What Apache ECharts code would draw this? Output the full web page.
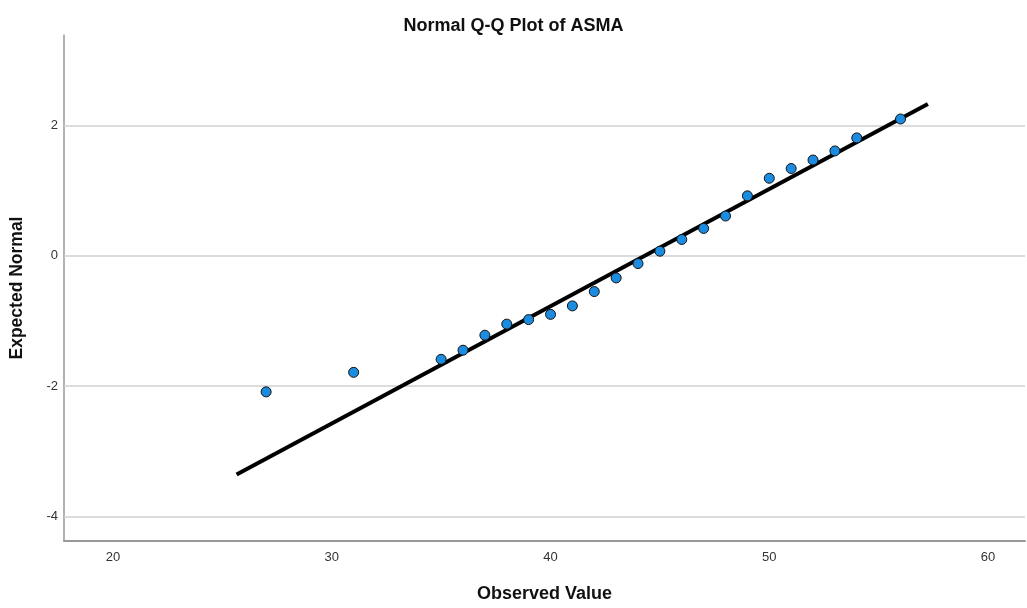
<!DOCTYPE html>
<html>
<head>
<meta charset="utf-8">
<script src="https://cdn.jsdelivr.net/npm/echarts@6/dist/echarts.min.js"></script>
<style>
  html, body { margin: 0; padding: 0; background: #fff; }
  #chart { width: 1027px; height: 608px; }
</style>
</head>
<body>
<div id="chart"></div>
<script>
// observed values and their expected normal quantiles
const observed = [27, 31, 35, 36, 37, 38, 39, 40, 41, 42, 43, 44, 45, 46, 47, 48, 49, 50, 51, 52, 53, 54, 56];
const expected = [-2.09, -1.79, -1.59, -1.45, -1.22, -1.05, -0.98, -0.90, -0.77, -0.55, -0.34, -0.12, 0.07,
  0.25, 0.42, 0.61, 0.92, 1.19, 1.34, 1.47, 1.61, 1.81, 2.10];

// reference line end points
const lineX = [25.65, 57.25];
const lineY = [-3.36, 2.33];

const xTicks = [20, 30, 40, 50, 60];
const yTicks = [-4, -2, 0, 2];

const font = '"Liberation Sans", Arial, sans-serif';
const chart = echarts.init(document.getElementById('chart'));

chart.setOption({
  animation: false,
  title: {
    text: 'Normal Q-Q Plot of ASMA',
    left: 'center',
    top: 12,
    textStyle: { fontFamily: font, fontSize: 18, fontWeight: 'bold', color: '#111' }
  },
  grid: { left: 63, right: 2, top: 35, bottom: 67 },
  xAxis: {
    type: 'value',
    min: 17.76,
    max: 61.69,
    name: 'Observed Value',
    nameLocation: 'middle',
    nameGap: 44,
    nameTextStyle: { fontFamily: font, fontSize: 18, fontWeight: 'bold', color: '#111' },
    axisLine: { show: true, onZero: false, lineStyle: { color: '#999', width: 2 } },
    axisTick: { show: false },
    splitLine: { show: false },
    axisLabel: {
      fontFamily: font, fontSize: 13, color: '#333', margin: 10,
      customValues: xTicks
    }
  },
  yAxis: {
    type: 'value',
    min: -4.38,
    max: 3.39,
    name: 'Expected Normal',
    nameLocation: 'middle',
    nameGap: 38,
    nameTextStyle: { fontFamily: font, fontSize: 17.5, fontWeight: 'bold', color: '#111' },
    axisLine: { show: true, onZero: false, lineStyle: { color: '#999', width: 1.5 } },
    axisTick: { show: false, customValues: yTicks },
    splitLine: { show: false },
    axisLabel: {
      fontFamily: font, fontSize: 13, color: '#333', margin: 6,
      customValues: yTicks
    }
  },
  series: [
    {
      type: 'line',
      data: yTicks.map(v => [17.76, v]),
      showSymbol: false,
      lineStyle: { width: 0 },
      silent: true,
      z: 1,
      markLine: {
        silent: true,
        z: 1,
        symbol: 'none',
        label: { show: false },
        lineStyle: { color: '#d0d0d0', width: 1.5, type: 'solid' },
        data: yTicks.map(v => ({ yAxis: v }))
      }
    },
    {
      type: 'line',
      data: lineX.map((x, i) => [x, lineY[i]]),
      showSymbol: false,
      lineStyle: { color: '#000', width: 4 },
      z: 3
    },
    {
      type: 'scatter',
      data: observed.map((x, i) => [x, expected[i]]),
      symbolSize: 10,
      itemStyle: { color: '#1c8ce0', borderColor: '#111', borderWidth: 1, opacity: 1 },
      z: 4
    }
  ]
});
</script>
</body>
</html>
